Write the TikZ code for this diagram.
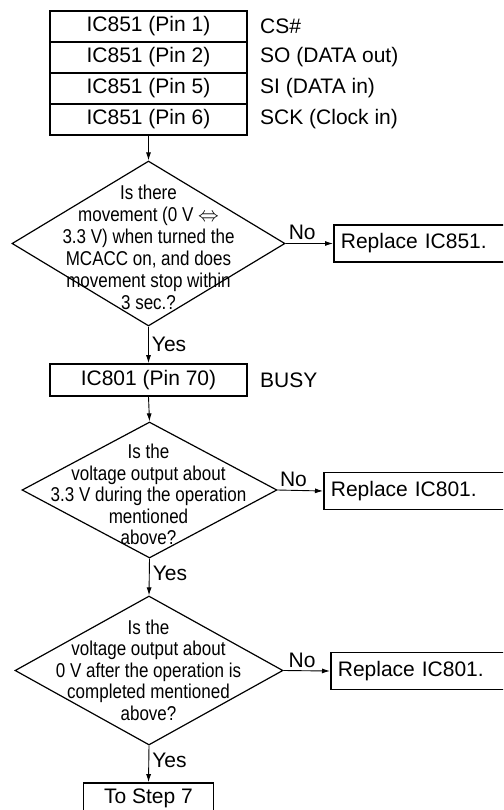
\documentclass[tikz,border=0pt]{standalone}
\usepackage{fontspec}
\setmainfont{Liberation Sans}
\newfontfamily\narrowfont[FakeStretch=0.85]{Liberation Sans}
\usetikzlibrary{arrows.meta,positioning,shapes.geometric}

\begin{document}
\begin{tikzpicture}[
x=1pt,
y=-1pt,
every node/.style={font=\fontsize{21}{24}\selectfont},
pinbox/.style={rectangle,draw,line width=1.7pt,inner sep=0pt,minimum width=197,minimum height=31},
sig/.style={anchor=west,inner sep=0pt},
decide/.style={diamond,draw,line width=1.2pt,inner sep=0pt},
qtext/.style={align=center,inner sep=0pt,font=\narrowfont\fontsize{20}{21.5}\selectfont},
fixbox/.style={rectangle,draw,line width=1.7pt,anchor=west,align=left,text width=170,inner xsep=7,minimum height=37},
flow/.style={-{Latex[length=8pt,width=5pt]},line width=0.9pt},
yn/.style={inner sep=3pt}
]
\useasboundingbox (0,0) rectangle (503,810);
\clip (0,0) rectangle (503,810);

% IC851 pins
\node[pinbox] (pin1) at (148.5,26.5) {IC851 (Pin 1)};
\node[pinbox] (pin2) at (148.5,57.5) {IC851 (Pin 2)};
\node[pinbox] (pin3) at (148.5,88.5) {IC851 (Pin 5)};
\node[pinbox] (pin4) at (148.5,119.5) {IC851 (Pin 6)};
\node[sig] (cs) at (260,26.5) {CS\#};
\node[sig] (so) at (260,57.5) {SO (DATA out)};
\node[sig] (si) at (260,88.5) {SI (DATA in)};
\node[sig] (sck) at (260,119.5) {SCK (Clock in)};

% first check
\node[decide,minimum width=273,minimum height=165] (q1) at (148.5,243.5) {};
\node[qtext,font=\narrowfont\fontsize{20}{22}\selectfont] (q1txt) at (148.5,247) {Is there\\movement (0 V $\Leftrightarrow$\\3.3 V) when turned the\\MCACC on, and does\\movement stop within\\3 sec.?};
\node[fixbox] (fix851) at (333,243.5) {Replace IC851.};

% BUSY line
\node[pinbox,minimum height=32] (busy) at (148.5,380) {IC801 (Pin 70)};
\node[sig] (busylbl) at (260,380) {BUSY};

\node[decide,minimum width=255,minimum height=136] (q2) at (149.5,490) {};
\node[qtext] (q2txt) at (148.5,494.5) {Is the\\voltage output about\\3.3 V during the operation\\mentioned\\above?};
\node[fixbox] (fix801a) at (323,491) {Replace IC801.};

\node[decide,minimum width=268,minimum height=149] (q3) at (149,670.5) {};
\node[qtext] (q3txt) at (148.5,670) {Is the\\voltage output about\\0 V after the operation is\\completed mentioned\\above?};
\node[fixbox] (fix801b) at (330,671) {Replace IC801.};

\node[pinbox,minimum width=130,minimum height=30] (next) at (148.5,798) {To Step 7};

\draw[flow] (pin4.south) -- (q1.north);
\draw[flow] (q1.east) -- node[yn,above,pos=0.35]{No} (fix851.west);
\draw[flow] (q1.south) -- node[yn,right,pos=0.5]{Yes} (busy.north);
\draw[flow] (busy.south) -- (q2.north);
\draw[flow] (q2.east) -- node[yn,above,pos=0.35]{No} (fix801a.west);
\draw[flow] (q2.south) -- node[yn,right,pos=0.4]{Yes} (q3.north);
\draw[flow] (q3.east) -- node[yn,above,pos=0.4]{No} (fix801b.west);
\draw[flow] (q3.south) -- node[yn,right,pos=0.4]{Yes} (next.north);
\end{tikzpicture}
\end{document}
